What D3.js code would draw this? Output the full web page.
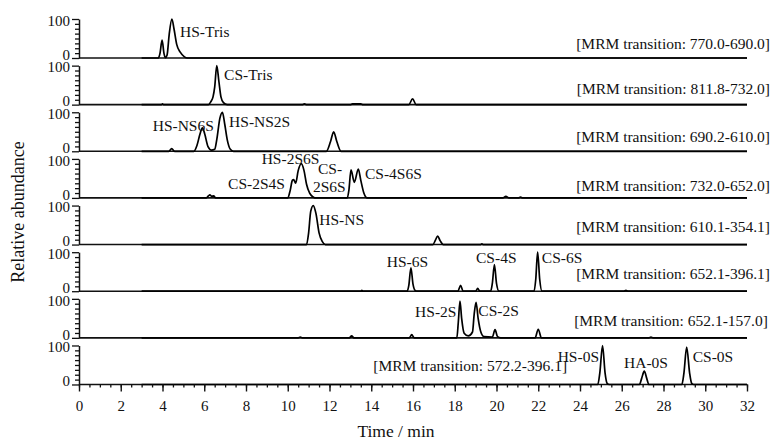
<!DOCTYPE html>
<html>
<head>
<meta charset="utf-8">
<script src="https://cdn.jsdelivr.net/npm/d3@7"></script>
<style>
  body { margin: 0; background: #fff; }
  text { font-family: "Liberation Serif", "Times New Roman", serif; fill: #111; }
</style>
</head>
<body>
<div id="chart"></div>
<script>
// MRM transition of every panel, top to bottom
var transitions = ["770.0-690.0", "811.8-732.0", "690.2-610.0", "732.0-652.0",
                   "610.1-354.1", "652.1-396.1", "652.1-157.0", "572.2-396.1"];

// where the transition text sits, in [time, abundance] (end anchored except last)
var mrmAnchor = [[33.1, 36], [33.1, 40], [33.1, 37], [33.1, 32],
                 [33.1, 46], [33.1, 45], [33.0, 44], [14.1, 48]];

// traces: [time (min), relative abundance (%)]
var traceHSTris = [[3,0],[3.8,0],[3.88,12],[3.98,46],[4.07,12],[4.14,1],[4.22,8],[4.32,60],
  [4.45,100],[4.55,75],[4.68,35],[4.85,15],[5.05,3],[5.2,0],[32,0]];
var traceCSTris = [[3,0],[3.95,0],[4.0,2],[4.05,0],[6.2,0],[6.32,8],[6.42,20],[6.5,45],[6.6,100],
  [6.7,60],[6.8,20],[6.92,5],[7.1,0],[10.7,0],[10.8,2],[10.9,0],[13.0,0],[13.1,2],[13.5,2],
  [13.6,0],[15.8,0],[15.98,15],[16.15,0],[32,0]];
var traceNS = [[3,0],[4.3,0],[4.44,7],[4.58,0],[5.5,0],[5.65,15],[5.8,45],[5.91,60],[6.02,45],
  [6.18,12],[6.35,3],[6.5,5],[6.6,30],[6.75,85],[6.87,100],[6.98,70],[7.1,30],[7.25,5],[7.4,0],
  [11.85,0],[12.05,25],[12.2,50],[12.35,25],[12.55,0],[32,0]];
var traceDiS = [[3,0],[6.1,0],[6.2,5],[6.27,8],[6.35,4],[6.45,5],[6.55,0],[10.0,0],[10.12,20],
  [10.22,45],[10.28,47],[10.38,38],[10.5,70],[10.65,88],[10.78,70],[10.9,35],[11.05,12],
  [11.2,3],[11.3,0],[12.85,0],[12.93,20],[13.03,72],[13.19,40],[13.38,74],[13.5,45],[13.65,12],
  [13.8,0],[20.3,0],[20.45,4],[20.6,0],[21.05,0],[21.15,2],[21.25,0],[32,0]];
var traceHSNS = [[3,0],[10.9,0],[11.0,30],[11.1,85],[11.22,100],[11.35,80],[11.5,30],[11.65,8],
  [11.8,0],[16.95,0],[17.08,12],[17.18,22],[17.3,10],[17.45,0],[19.25,0],[19.3,2],[19.35,0],[32,0]];
var trace6S4S = [[3,0],[13.5,0],[13.55,2],[13.6,0],[15.72,0],[15.8,15],[15.9,60],[16.0,18],
  [16.1,2],[16.2,0],[18.15,0],[18.28,15],[18.4,0],[19.0,0],[19.1,7],[19.2,0],[19.72,0],
  [19.8,20],[19.9,68],[20.0,20],[20.12,0],[21.8,0],[21.88,30],[21.97,100],[22.07,30],[22.18,0],
  [26.1,0],[26.2,2],[26.3,0],[32,0]];
var trace2S = [[3,0],[10.5,0],[10.6,2],[10.7,0],[12.95,0],[13.06,5],[13.17,0],[15.82,0],
  [15.94,8],[16.06,0],[18.1,0],[18.17,40],[18.25,94],[18.33,50],[18.45,12],[18.65,5],[18.85,15],
  [18.93,60],[19.02,91],[19.12,50],[19.25,15],[19.4,3],[19.8,2],[19.93,21],[20.05,3],[20.2,0],
  [21.85,0],[22.0,22],[22.15,0],[27.3,0],[27.4,2],[27.5,0],[32,0]];
var trace0S = [[3,0],[24.85,0],[24.95,30],[25.08,100],[25.2,30],[25.3,3],[25.4,0],[26.85,0],
  [26.95,15],[27.08,34],[27.2,15],[27.3,0],[28.88,0],[28.98,30],[29.11,96],[29.25,30],
  [29.35,3],[29.45,0],[32,0]];

var traces = [traceHSTris, traceCSTris, traceNS, traceDiS, traceHSNS, trace6S4S, trace2S, trace0S];

// peak names: panel, text, [time, abundance] of the text's left middle
var peakLabels = [
  {p:0, text:"HS-Tris", t:4.84, v:69},
  {p:1, text:"CS-Tris", t:6.95, v:76},
  {p:2, text:"HS-NS6S", t:3.53, v:67},
  {p:2, text:"HS-NS2S", t:7.19, v:75},
  {p:3, text:"CS-2S4S", t:7.14, v:38},
  {p:3, text:"HS-2S6S", t:8.75, v:102},
  {p:3, text:"CS-", t:11.45, v:76},
  {p:3, text:"2S6S", t:11.21, v:29},
  {p:3, text:"CS-4S6S", t:13.7, v:63},
  {p:4, text:"HS-NS", t:11.51, v:64},
  {p:5, text:"HS-6S", t:14.74, v:77},
  {p:5, text:"CS-4S", t:19.02, v:85},
  {p:5, text:"CS-6S", t:22.17, v:85},
  {p:6, text:"HS-2S", t:16.1, v:68},
  {p:6, text:"CS-2S", t:19.13, v:70},
  {p:7, text:"HS-0S", t:22.93, v:72},
  {p:7, text:"HA-0S", t:26.11, v:55},
  {p:7, text:"CS-0S", t:29.4, v:72}
];

var xTickLabels = [0, 2, 4, 6, 8, 10, 12, 14, 16, 18, 20, 22, 24, 26, 28, 30, 32];
var xMinor = d3.range(0, 32.01, 0.5);
var yTickLabels = [0, 100];
var yMinor = [12.5, 25, 37.5, 50, 62.5, 75, 87.5];

// set the dimensions of the graph
var W = 773, H = 443;
var left = 79, right = 747;
var firstBase = 58, step = 46.64, panelH = 39;

var svg = d3.select("#chart")
  .append("svg")
    .attr("width", W)
    .attr("height", H);

var x = d3.scaleLinear().domain([0, 32]).range([left, right]);

traces.forEach(function(data, i) {
  var base = firstBase + i * step;
  var y = d3.scaleLinear().domain([0, 100]).range([base, base - panelH]);
  var g = svg.append("g");

  // minor y ticks
  g.append("g")
    .attr("transform", "translate(" + left + ",0)")
    .call(d3.axisLeft(y).tickValues(yMinor).tickSize(4).tickFormat(""))
    .call(function(a) { a.select(".domain").remove(); });

  // main y axis
  var ya = g.append("g")
    .attr("transform", "translate(" + left + ",0)")
    .call(d3.axisLeft(y).tickValues(yTickLabels).tickSize(7).tickSizeOuter(0).tickPadding(2));
  ya.selectAll("text")
    .style("font-size", "15px")
    .attr("dy", function(d) { return d === 0 ? "0.08em" : "0.42em"; });
  ya.selectAll("path").attr("stroke", "#111").attr("stroke-width", 1.5);
  g.selectAll("line").attr("stroke", "#111").attr("stroke-width", 1.3);

  // baseline
  g.append("line")
    .attr("x1", x(0)).attr("x2", x(32))
    .attr("y1", y(0)).attr("y2", y(0))
    .attr("stroke", "#111")
    .attr("stroke-width", 1.6);

  // the trace
  g.append("path")
    .datum(data)
    .attr("fill", "none")
    .attr("stroke", "#000")
    .attr("stroke-width", 1.7)
    .attr("stroke-linejoin", "round")
    .attr("d", d3.line()
      .x(function(d) { return x(d[0]); })
      .y(function(d) { return y(d[1]); })
      .curve(d3.curveMonotoneX));

  // transition label
  var last = i === traces.length - 1;
  g.append("text")
    .attr("x", x(mrmAnchor[i][0]))
    .attr("y", y(mrmAnchor[i][1]))
    .attr("dy", "0.35em")
    .attr("text-anchor", last ? "start" : "end")
    .style("font-size", "15.5px")
    .text("[MRM transition: " + transitions[i] + "]");

  // peak names
  peakLabels.filter(function(d) { return d.p === i; }).forEach(function(d) {
    g.append("text")
      .attr("x", x(d.t))
      .attr("y", y(d.v))
      .attr("dy", "0.35em")
      .style("font-size", "15.5px")
      .text(d.text);
  });
});

// X axis under the last panel
var bottom = firstBase + 7 * step;
svg.append("g")
  .attr("transform", "translate(0," + bottom + ")")
  .call(d3.axisBottom(x).tickValues(xMinor).tickSize(3).tickFormat(""))
  .call(function(a) { a.select(".domain").remove(); })
  .selectAll("line").attr("stroke", "#111").attr("stroke-width", 1.3);

var xa = svg.append("g")
  .attr("transform", "translate(0," + bottom + ")")
  .call(d3.axisBottom(x).tickValues(xTickLabels).tickSize(7).tickSizeOuter(0).tickPadding(9));
xa.select(".domain").remove();
xa.selectAll("line").attr("stroke", "#111").attr("stroke-width", 1.4);
xa.selectAll("text").style("font-size", "15px");

// text label for the x axis
svg.append("text")
  .attr("x", 396)
  .attr("y", 437)
  .attr("text-anchor", "middle")
  .style("font-size", "17.5px")
  .text("Time / min");

// text label for the y axis
svg.append("text")
  .attr("transform", "translate(24,212) rotate(-90)")
  .attr("text-anchor", "middle")
  .style("font-size", "18px")
  .text("Relative abundance");
</script>
</body>
</html>
